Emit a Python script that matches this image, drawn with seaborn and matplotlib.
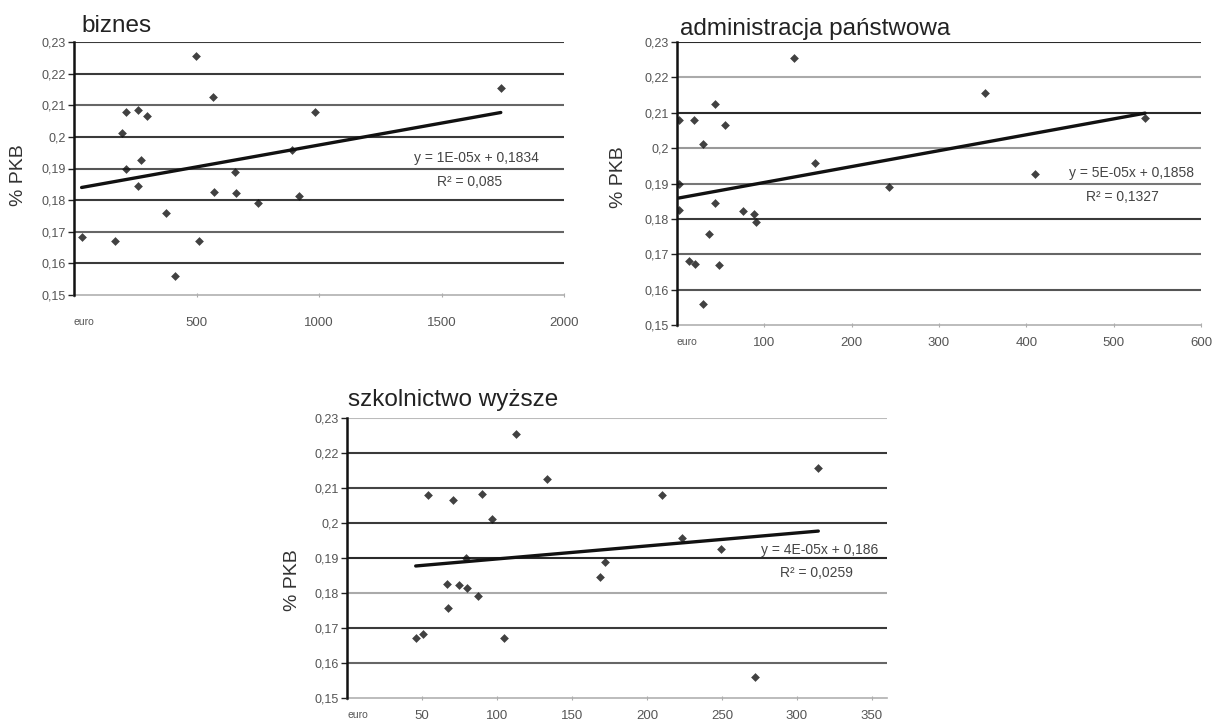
import matplotlib
matplotlib.use("Agg")
import matplotlib.pyplot as plt
import numpy as np
import pandas as pd
import seaborn as sns

# ---------------- data ----------------
biz_x = [31, 169, 195, 211, 211, 262, 262, 273, 298, 375, 414, 497, 512, 566,
         573, 659, 661, 753, 888, 917, 984, 1742]
biz_y = [0.1682, 0.1672, 0.2011, 0.2079, 0.1900, 0.2084, 0.1845, 0.1926, 0.2066,
         0.1758, 0.1560, 0.2255, 0.1671, 0.2126, 0.1826, 0.1890, 0.1823, 0.1792,
         0.1958, 0.1813, 0.2079, 0.2156]

adm_x = [134, 353, 43, 536, 2.7, 19.5, 55, 30, 158, 410, 2, 243, 44, 2.7, 76, 88,
         91, 37, 14, 21, 48, 30]
adm_y = [0.2255, 0.2156, 0.2126, 0.2084, 0.2079, 0.2079, 0.2066, 0.2011, 0.1958,
         0.1926, 0.1900, 0.1890, 0.1845, 0.1826, 0.1823, 0.1813, 0.1792, 0.1758,
         0.1682, 0.1672, 0.1671, 0.1560]

szk_x = [45.8, 50.4, 53.7, 66.8, 67.3, 70.8, 74.4, 79.8, 79, 87.2, 89.9, 96.7,
         104.9, 112.5, 133.5, 168.4, 171.7, 209.8, 223.4, 249.3, 271.9, 314.2]
szk_y = [0.1672, 0.1682, 0.2079, 0.1826, 0.1758, 0.2066, 0.1823, 0.1813, 0.1900,
         0.1792, 0.2084, 0.2011, 0.1671, 0.2255, 0.2126, 0.1845, 0.1890, 0.2079,
         0.1958, 0.1926, 0.1560, 0.2156]

titles = ["biznes", "administracja państwowa", "szkolnictwo wyższe"]
equations = ["y = 1E-05x + 0,1834", "y = 5E-05x + 0,1858", "y = 4E-05x + 0,186"]
r2_texts = ["R² = 0,085", "R² = 0,1327", "R² = 0,0259"]
y_label = "% PKB"
y_ticks = [0.15, 0.16, 0.17, 0.18, 0.19, 0.20, 0.21, 0.22, 0.23]
x_ticks = [[0, 500, 1000, 1500, 2000],
           [0, 100, 200, 300, 400, 500, 600],
           [0, 50, 100, 150, 200, 250, 300, 350]]
x_zero_label = "euro"

# ---------------- style / layout ----------------
sns.set_theme(style="white")
plt.rcParams["font.family"] = ["Liberation Sans", "DejaVu Sans"]

W, H = 1216, 722
fig = plt.figure(figsize=(W / 100, H / 100), dpi=100)
fig.patch.set_facecolor("white")

# left, top, right, bottom in pixels
boxes = [(74, 42, 564, 295), (677, 42, 1201, 325), (347, 418, 887, 698)]
xlims = [(0, 2000), (0, 600), (0, 360)]
title_pos = [(0.016, 1.040), (0.006, 1.025), (0.002, 1.043)]
ylab_pos = [(-0.096, 0.474), (-0.095, 0.523), (-0.085, 0.421)]
eq_pos = [(0.822, 0.542, 0.808, 0.447), (0.868, 0.537, 0.851, 0.452),
          (0.876, 0.529, 0.869, 0.446)]
xpads = [14, 7, 7]
grid_cols = [
    ["#3a3a3a", "#666", "#3a3a3a", "#555", "#3a3a3a", "#666", "#3a3a3a", "#3a3a3a"],
    ["#555", "#666", "#3a3a3a", "#777", "#999", "#2a2a2a", "#aaa", "#2a2a2a"],
    ["#666", "#3a3a3a", "#aaa", "#2a2a2a", "#3a3a3a", "#444", "#3a3a3a", "#bbb"],
]

datasets = [(biz_x, biz_y), (adm_x, adm_y), (szk_x, szk_y)]

for i, ((xs, ys), (l, t, r, b)) in enumerate(zip(datasets, boxes)):
    ax = fig.add_axes([l / W, 1 - b / H, (r - l) / W, (b - t) / H])
    df = pd.DataFrame({"x": xs, "y": ys})
    ax.set_xlim(*xlims[i])
    ax.set_ylim(0.15, 0.23)

    # horizontal grid lines (0.16 ... 0.23)
    for v, c in zip(y_ticks[1:], grid_cols[i]):
        ax.axhline(v, color=c, lw=1.5, zorder=1)

    sns.regplot(data=df, x="x", y="y", ax=ax, ci=None, marker="D",
                scatter_kws=dict(s=20, color="#111", zorder=3, linewidths=0),
                line_kws=dict(color="#111", lw=2.4, zorder=4))

    ax.set_xlabel("")
    ax.set_ylabel("")
    ax.set_yticks(y_ticks)
    ax.set_yticklabels([f"{v:g}".replace(".", ",") for v in y_ticks],
                       fontsize=9, color="#555")
    ax.set_xticks(x_ticks[i])
    labs = [x_zero_label] + [str(v) for v in x_ticks[i][1:]]
    ax.set_xticklabels(labs, fontsize=9.5, color="#555")
    tl = ax.get_xticklabels()[0]
    tl.set_fontsize(7.5)
    tl.set_ha("left")

    ax.tick_params(axis="y", direction="out", length=4, width=1, color="#222",
                   pad=2, left=True)
    ax.tick_params(axis="x", direction="inout", length=3, width=0.8,
                   color="#aaa", pad=xpads[i], bottom=True)

    for s in ["top", "right"]:
        ax.spines[s].set_visible(False)
    ax.spines["left"].set_color("#111")
    ax.spines["left"].set_linewidth(1.8)
    ax.spines["left"].set_zorder(5)
    ax.spines["bottom"].set_color("#b0b0b0")
    ax.spines["bottom"].set_linewidth(1.2)
    ax.grid(False)

    tx, ty = title_pos[i]
    ax.text(tx, ty, titles[i], transform=ax.transAxes, ha="left",
            va="baseline", fontsize=17.5, color="#222")
    lx, ly = ylab_pos[i]
    ax.text(lx, ly, y_label, transform=ax.transAxes, rotation=90,
            ha="right", va="center", fontsize=14, color="#333")
    ex, ey, rx, ry = eq_pos[i]
    ax.text(ex, ey, equations[i], transform=ax.transAxes, ha="center",
            va="center", fontsize=10, color="#444")
    ax.text(rx, ry, r2_texts[i], transform=ax.transAxes, ha="center",
            va="center", fontsize=10, color="#444")

fig.savefig("out.png", dpi=100, facecolor="white")
